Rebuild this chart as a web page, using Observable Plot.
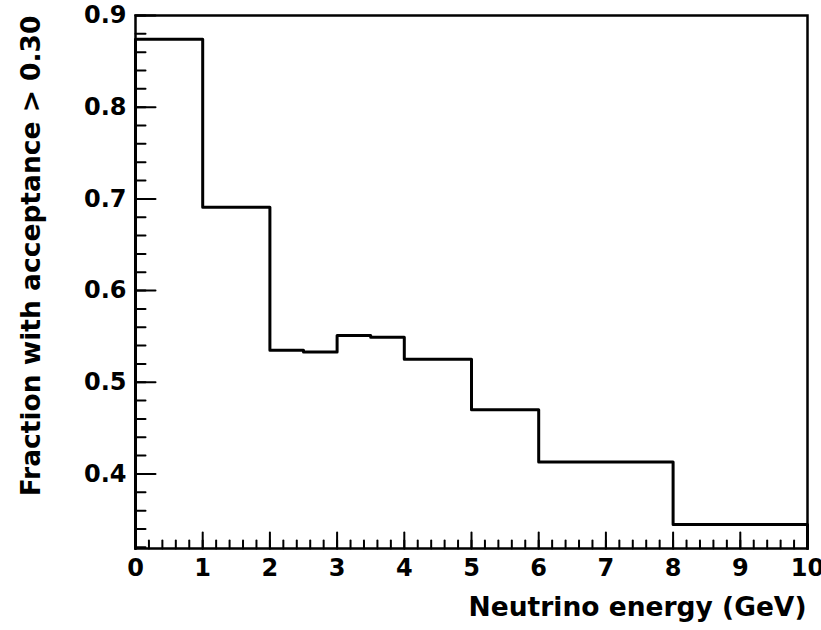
<!DOCTYPE html>
<html>
<head>
<meta charset="utf-8">
<script src="https://cdn.jsdelivr.net/npm/d3@7"></script>
<script src="https://cdn.jsdelivr.net/npm/@observablehq/plot@0.6"></script>
<style>
  body { margin: 0; background: #fff; }
  #chart svg { display: block; }
</style>
</head>
<body>
<div id="chart"></div>
<script>
// Histogram bin edges (GeV) and bin contents
const binEdges = [0, 1, 2, 2.5, 3, 3.5, 4, 5, 6, 8, 10];
const fractions = [0.874, 0.691, 0.535, 0.533, 0.551, 0.549, 0.525, 0.470, 0.413, 0.345];

const xMajorTicks = [0, 1, 2, 3, 4, 5, 6, 7, 8, 9, 10];
const yMajorTicks = [0.4, 0.5, 0.6, 0.7, 0.8, 0.9];
const yMin = 0.3187, yMax = 0.9;

const xMinorTicks = d3.range(0, 10.001, 0.2).map(v => +v.toFixed(2));
const yMinorTicks = d3.range(0.32, 0.9001, 0.02).map(v => +v.toFixed(2));

// outline points for a ROOT-style histogram
const outline = [{x: binEdges[0], y: yMin}];
fractions.forEach((f, i) => outline.push({x: binEdges[i], y: f}));
outline.push({x: binEdges[binEdges.length - 1], y: fractions[fractions.length - 1]});
outline.push({x: binEdges[binEdges.length - 1], y: yMin});

const line = {draw(ctx, l) { ctx.moveTo(0, 0); ctx.lineTo(0, -l); }};
const font = "'DejaVu Sans', 'Liberation Sans', Arial, sans-serif";

const chart = Plot.plot({
  width: 821,
  height: 630,
  marginLeft: 135,
  marginRight: 14,
  marginTop: 15,
  marginBottom: 82,
  style: {fontFamily: font, fontWeight: "bold", background: "white", color: "black"},
  x: {domain: [0, 10]},
  y: {domain: [yMin, yMax]},
  marks: [
    Plot.axisX({ticks: xMajorTicks, tickSize: 0, tickPadding: 10, fontSize: 24, fontWeight: "bold", label: null, tickFormat: d => String(d)}),
    Plot.axisY({ticks: yMajorTicks, tickSize: 0, tickPadding: 9, fontSize: 24, fontWeight: "bold", label: null, tickFormat: d => d.toFixed(1)}),
    // inward ticks
    Plot.vector(xMinorTicks, {x: d => d, y: yMin, length: 8, rotate: 0, anchor: "start", shape: line, stroke: "black", strokeWidth: 2}),
    Plot.vector(xMajorTicks, {x: d => d, y: yMin, length: 16, rotate: 0, anchor: "start", shape: line, stroke: "black", strokeWidth: 2}),
    Plot.vector(yMinorTicks, {x: 0, y: d => d, length: 10, rotate: 90, anchor: "start", shape: line, stroke: "black", strokeWidth: 2}),
    Plot.vector(yMajorTicks, {x: 0, y: d => d, length: 20, rotate: 90, anchor: "start", shape: line, stroke: "black", strokeWidth: 2}),
    Plot.line(outline, {x: "x", y: "y", curve: "step-after", stroke: "black", strokeWidth: 3}),
    Plot.frame({stroke: "black", strokeWidth: 2.5}),
    Plot.text(["Neutrino energy (GeV)"], {frameAnchor: "bottom-right", textAnchor: "end", dx: -1, dy: 67, fontSize: 26.5, fontWeight: "bold", fill: "black"}),
    Plot.text(["Fraction with acceptance > 0.30"], {frameAnchor: "top-left", textAnchor: "end", rotate: -90, dx: -114, dy: 0, fontSize: 26.5, fontWeight: "bold", fill: "black"})
  ]
});
document.getElementById("chart").appendChild(chart);
</script>
</body>
</html>
